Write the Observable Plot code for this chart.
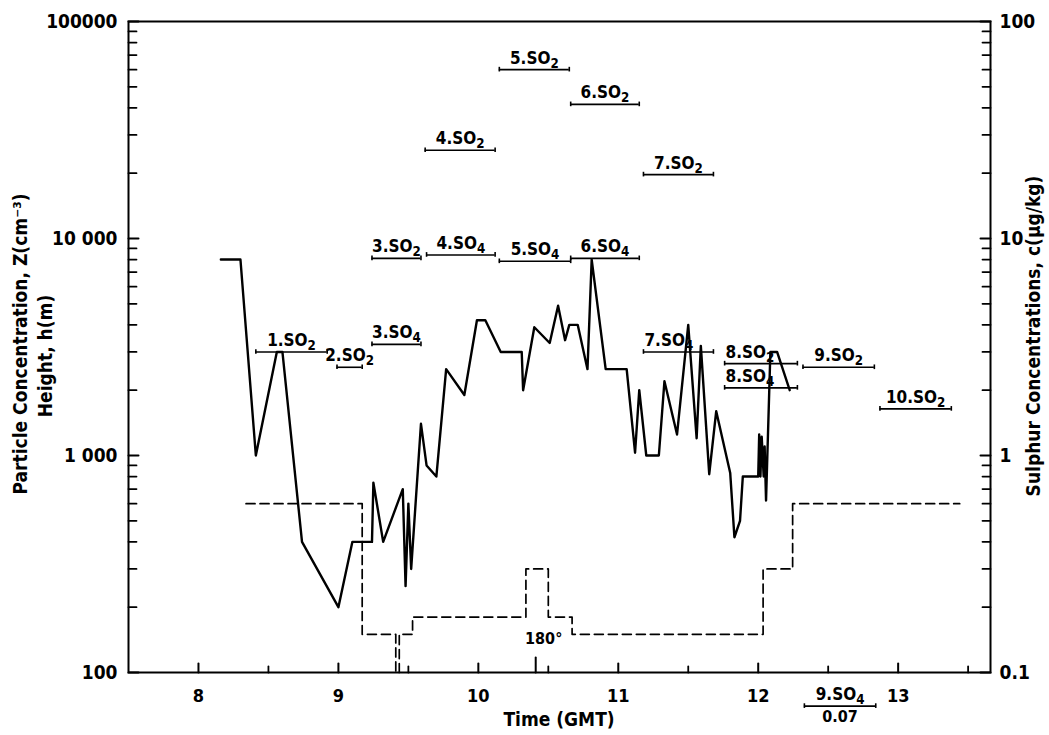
<!DOCTYPE html>
<html><head><meta charset="utf-8">
<script src="https://cdn.jsdelivr.net/npm/d3@7"></script>
<script src="https://cdn.jsdelivr.net/npm/@observablehq/plot@0.6"></script>
<style>
html,body{margin:0;padding:0;background:#fff;}
#chart{width:1049px;height:735px;}
</style></head><body><div id="chart"></div>
<script>
// Particle concentration Z (cm^-3), solid line
const lineTime = [8.16, 8.30, 8.41, 8.56, 8.60, 8.74, 9.00, 9.10, 9.24, 9.25, 9.32, 9.46, 9.48, 9.50, 9.52, 9.59, 9.63, 9.70, 9.77, 9.90, 9.99, 10.05, 10.16, 10.31, 10.32, 10.40, 10.51, 10.57, 10.62, 10.65, 10.71, 10.78, 10.81, 10.91, 11.06, 11.12, 11.15, 11.20, 11.29, 11.33, 11.42, 11.50, 11.56, 11.59, 11.65, 11.70, 11.80, 11.83, 11.87, 11.89, 12.00, 12.007, 12.016, 12.025, 12.039, 12.046, 12.056, 12.087, 12.135, 12.225];
const lineZ    = [8000, 8000, 1000, 3000, 3000, 400, 200, 400, 400, 750, 400, 700, 250, 600, 300, 1400, 900, 800, 2500, 1900, 4200, 4200, 3000, 3000, 2000, 3900, 3300, 4900, 3400, 4000, 4000, 2500, 8000, 2500, 2500, 1030, 2000, 1000, 1000, 2200, 1250, 4000, 1200, 3200, 820, 1600, 830, 420, 500, 800, 800, 1250, 800, 1220, 800, 1100, 620, 3000, 3000, 2000];

// Flight height h (m), dashed steps (value holds until next time)
const heightTime = [8.34, 9.17, 9.41, 9.435, 9.53, 10.34, 10.50, 10.67, 12.035, 12.246, 13.44];
const heightH    = [600, 150, 100, 150, 180, 300, 180, 150, 300, 600, 600];

// Sulphur samples: sampling interval and concentration c (µg/kg)
const sampleName  = ["1.SO₂", "2.SO₂", "3.SO₂", "3.SO₄", "4.SO₂", "4.SO₄", "5.SO₂", "5.SO₄", "6.SO₂", "6.SO₄", "7.SO₂", "7.SO₄", "8.SO₂", "8.SO₄", "9.SO₂", "9.SO₄", "10.SO₂"];
const sampleStart = [8.41, 8.99, 9.24, 9.24, 9.62, 9.63, 10.15, 10.15, 10.66, 10.66, 11.18, 11.18, 11.76, 11.76, 12.32, 12.33, 12.87];
const sampleEnd   = [8.92, 9.17, 9.59, 9.59, 10.12, 10.12, 10.65, 10.66, 11.15, 11.15, 11.68, 11.68, 12.28, 12.28, 12.83, 12.84, 13.38];
const sampleConc  = [3.0, 2.55, 8.1, 3.25, 25.5, 8.4, 60, 7.85, 41.5, 8.1, 19.7, 3.0, 2.65, 2.05, 2.55, 0.07, 1.64];
const leftAlignedSamples = ["7.SO₄", "8.SO₂", "8.SO₄"];

// Axes
const zTicks = [100, 1000, 10000, 100000];
const zTickLabels = ["100", "1 000", "10 000", "100000"];
const cTickLabels = ["0.1", "1", "10", "100"];
const zMinorTicks = [200, 300, 400, 500, 600, 700, 800, 900, 2000, 3000, 4000, 5000, 6000, 7000, 8000, 9000, 20000, 30000, 40000, 50000, 60000, 70000, 80000, 90000];
const hourTicks = [8, 9, 10, 11, 12, 13];
const halfHourTicks = [8.5, 9.5, 10.5, 11.5, 12.5, 13.5];
const turnTime = [10.41];
const turnLabel = "180°";

const lineData = lineTime.map((t, i) => ({t, z: lineZ[i]}));
const heightData = heightTime.map((t, i) => ({t, z: heightH[i]}));
const samples = sampleName.map((name, i) => ({name, t1: sampleStart[i], t2: sampleEnd[i], c: sampleConc[i], z: sampleConc[i] * 1000}));
const zMin = zTicks[0];
const centered = samples.filter(d => !leftAlignedSamples.includes(d.name));
const leftAligned = samples.filter(d => leftAlignedSamples.includes(d.name));
const belowAxis = samples.filter(d => d.z < zMin);

const FONT = "'DejaVu Sans Condensed', 'DejaVu Sans', sans-serif";

// inward tick marks drawn as short vectors from the frame edge
const tickShape = {draw(context, l) { context.moveTo(0, 0); context.lineTo(0, -l); }};
const inTickY = (ticks, side, len, sw) => Plot.vector(ticks, {y: d => d, frameAnchor: side, rotate: side === "left" ? 90 : -90, length: len, anchor: "start", shape: tickShape, stroke: "black", strokeWidth: sw});
const inTickX = (ticks, len, sw) => Plot.vector(ticks, {x: d => d, frameAnchor: "bottom", rotate: 0, length: len, anchor: "start", shape: tickShape, stroke: "black", strokeWidth: sw});

const svg = Plot.plot({
  width: 1049, height: 735,
  marginLeft: 128, marginRight: 59, marginTop: 21, marginBottom: 63,
  x: {domain: [7.5, 13.66], label: null},
  y: {type: "log", domain: [100, 100000], label: null},
  style: {fontFamily: FONT, fontWeight: "bold", fontStretch: "condensed", color: "black", background: "white", overflow: "visible"},
  marks: [
    Plot.frame({strokeWidth: 2}),
    // left axis
    Plot.axisY(zTicks, {anchor: "left", tickSize: 0, tickPadding: 11, fontSize: 19, label: null, tickFormat: d => zTickLabels[zTicks.indexOf(d)]}),
    inTickY(zTicks, "left", 10, 2),
    inTickY(zMinorTicks, "left", 8, 1.8),
    // right axis
    Plot.axisY(zTicks, {anchor: "right", tickSize: 0, tickPadding: 9, fontSize: 19, label: null, tickFormat: d => cTickLabels[zTicks.indexOf(d)]}),
    inTickY(zTicks, "right", 10, 2),
    inTickY(zMinorTicks, "right", 8, 1.8),
    // bottom axis
    Plot.axisX(hourTicks, {anchor: "bottom", tickSize: 0, tickPadding: 17, fontSize: 18, label: null, tickFormat: d => String(d)}),
    inTickX(hourTicks, 9, 2),
    inTickX(halfHourTicks, 6, 1.8),
    inTickX(turnTime, 15, 2),
    // height (dashed)
    Plot.line(heightData, {x: "t", y: "z", curve: "step-after", stroke: "black", strokeWidth: 1.7, strokeDasharray: "9,5"}),
    // particle concentration
    Plot.line(lineData, {x: "t", y: "z", stroke: "black", strokeWidth: 2.4}),
    // sulphur sample intervals
    Plot.ruleY(samples, {y: "z", x1: "t1", x2: "t2", stroke: "black", strokeWidth: 1.6}),
    Plot.ruleX(samples, {x: "t1", y1: d => d.z / 1.025, y2: d => d.z * 1.025, stroke: "black", strokeWidth: 1.6}),
    Plot.ruleX(samples, {x: "t2", y1: d => d.z / 1.025, y2: d => d.z * 1.025, stroke: "black", strokeWidth: 1.6}),
    Plot.text(centered, {x: d => (d.t1 + d.t2) / 2, y: "z", text: "name", lineAnchor: "bottom", dy: -6, fontSize: 17, textAnchor: "middle"}),
    Plot.text(leftAligned, {x: "t1", y: "z", text: "name", lineAnchor: "bottom", dy: -6, dx: 1, fontSize: 17, textAnchor: "start"}),
    Plot.text(belowAxis, {x: d => (d.t1 + d.t2) / 2, y: "z", text: d => String(d.c), lineAnchor: "top", dy: 5, fontSize: 16, textAnchor: "middle"}),
    // turn annotation
    Plot.text(turnTime, {x: d => d, frameAnchor: "bottom", text: () => turnLabel, dx: 8, dy: -34, fontSize: 16, lineAnchor: "middle"})
  ]
});

const s = d3.select(svg);
// render Unicode subscripts as real subscripted digits
const subMap = {"₂": "2", "₄": "4"};
s.selectAll("text").each(function () {
  if (this.childElementCount) return;
  const t = this.textContent;
  const m = t.match(/^(.*?)([₂₄])$/);
  if (!m) return;
  const el = d3.select(this);
  el.text(null);
  el.append("tspan").text(m[1]);
  el.append("tspan").attr("dy", "0.3em").attr("font-size", "0.78em").text(subMap[m[2]]);
});

function title(x, y, rot, txt, size) {
  s.append("text")
    .attr("transform", `translate(${x},${y}) rotate(${rot})`)
    .attr("text-anchor", "middle")
    .attr("dominant-baseline", "middle")
    .attr("font-family", FONT)
    .attr("font-weight", "bold")
    .attr("font-stretch", "condensed")
    .attr("font-size", size)
    .attr("fill", "black")
    .text(txt);
}
title(21, 344, -90, "Particle Concentration, Z(cm⁻³)", 19);
title(46, 356, -90, "Height, h(m)", 19);
title(1034, 336, -90, "Sulphur Concentrations, c(µg/kg)", 19);
title(559, 720, 0, "Time (GMT)", 19);

document.getElementById("chart").appendChild(svg);
</script>
</body></html>
